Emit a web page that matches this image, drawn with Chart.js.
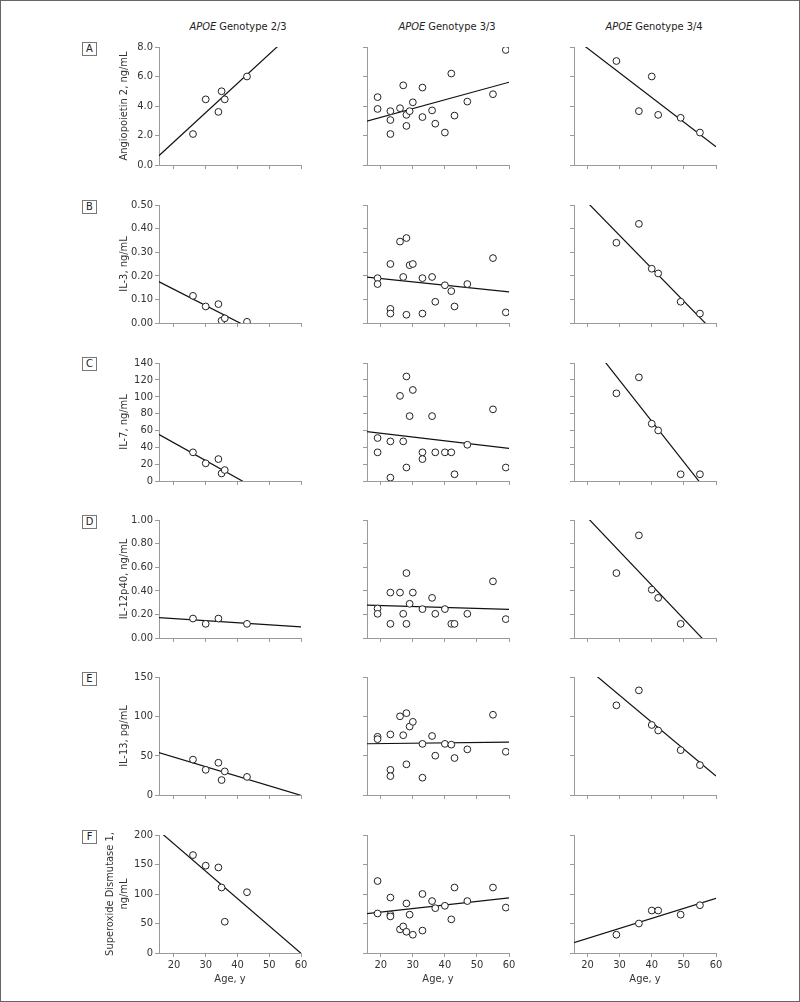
<!DOCTYPE html>
<html>
<head>
<meta charset="utf-8">
<script src="https://cdn.jsdelivr.net/npm/chart.js@4.4.1/dist/chart.umd.min.js"></script>
<style>
  body { margin: 0; background: #fff; }
  #page {
    position: relative; width: 800px; height: 1002px; box-sizing: border-box;
    border: 1px solid #666; overflow: hidden; background: #fff;
    font-family: "DejaVu Sans Condensed", "Liberation Sans", sans-serif;
    color: #222;
  }
  canvas { position: absolute; }
  .col { position: absolute; top: 19px; font-size: 11px; line-height: 13px; white-space: nowrap; transform: translateX(-50%); }
  .tag { position: absolute; left: 81px; width: 13px; height: 12px; border: 1px solid #777;
         font-size: 11px; line-height: 12px; text-align: center; }
</style>
</head>
<body>
<div id="page"></div>
<script>
// axis labels
const colTitles = ['Genotype 2/3', 'Genotype 3/3', 'Genotype 3/4'];
const rowLetters = ['A', 'B', 'C', 'D', 'E', 'F'];
const yTitles = [
  'Angiopoietin 2, ng/mL',
  'IL-3, ng/mL',
  'IL-7, ng/mL',
  'IL-12p40, ng/mL',
  'IL-13, pg/mL',
  ['Superoxide Dismutase 1,', 'ng/mL']
];
const xTicks = [20, 30, 40, 50, 60];
const ticksA = [0, 2, 4, 6, 8];
const ticksB = [0, 0.1, 0.2, 0.3, 0.4, 0.5];
const ticksC = [0, 20, 40, 60, 80, 100, 120, 140];
const ticksD = [0, 0.2, 0.4, 0.6, 0.8, 1.0];
const ticksE = [0, 50, 100, 150];
const ticksF = [0, 50, 100, 150, 200];
const tickDecimals = [1, 2, 0, 2, 0, 0];

// APOE 2/3
const age23 = [26, 30, 34, 35, 36, 43];
const angio23 = [2.1, 4.45, 3.6, 5.0, 4.45, 6.0];
const il3_23 = [0.115, 0.07, 0.08, 0.01, 0.02, 0.005];
const il7age23 = [26, 30, 34, 35, 36];
const il7_23 = [34, 21, 26, 9, 13];
const il12age23 = [26, 30, 34, 43];
const il12_23 = [0.165, 0.12, 0.165, 0.12];
const il13_23 = [45, 32, 41, 19, 30, 23];
const sod23 = [166, 148, 145, 111, 53, 103];

// APOE 3/3
const age33 = [19, 19, 23, 23, 23, 26, 27, 28, 28, 29, 30, 33, 33, 36, 37, 40, 42, 43, 47, 55, 59];
const angio33 = [4.6, 3.8, 3.65, 3.05, 2.1, 3.85, 5.4, 3.4, 2.65, 3.65, 4.25, 5.25, 3.25, 3.7, 2.8, 2.2, 6.2, 3.35, 4.3, 4.8, 7.8];
const il3_33 = [0.19, 0.165, 0.25, 0.06, 0.04, 0.345, 0.195, 0.36, 0.035, 0.245, 0.25, 0.19, 0.04, 0.195, 0.09, 0.16, 0.135, 0.07, 0.165, 0.275, 0.045];
const il7age33 = [19, 19, 23, 23, 26, 27, 28, 28, 29, 30, 33, 33, 36, 37, 40, 42, 43, 47, 55, 59];
const il7_33 = [51, 34, 47, 4, 101, 47, 124, 16, 77, 108, 34, 26, 77, 34, 34, 34, 8, 43, 85, 16];
const il12age33 = [19, 19, 23, 23, 26, 27, 28, 28, 29, 30, 33, 36, 37, 40, 42, 43, 47, 55, 59];
const il12_33 = [0.25, 0.205, 0.385, 0.12, 0.385, 0.205, 0.55, 0.12, 0.29, 0.385, 0.245, 0.34, 0.205, 0.245, 0.12, 0.12, 0.205, 0.48, 0.16];
const il13_33 = [74, 71, 77, 32, 24, 100, 76, 104, 39, 87, 93, 65, 22, 75, 50, 65, 64, 47, 58, 102, 55];
const sod33 = [122, 67, 94, 65, 62, 40, 45, 84, 36, 65, 31, 100, 38, 88, 76, 80, 57, 111, 88, 111, 77];

// APOE 3/4
const age34 = [29, 36, 40, 42, 49, 55];
const angio34 = [7.05, 3.65, 6.0, 3.4, 3.2, 2.2];
const il3_34 = [0.34, 0.42, 0.23, 0.21, 0.09, 0.04];
const il7_34 = [104, 123, 68, 60, 8, 8];
const il12age34 = [29, 36, 40, 42, 49];
const il12_34 = [0.55, 0.87, 0.41, 0.34, 0.12];
const il13_34 = [114, 133, 89, 82, 57, 38];
const sod34 = [31, 50, 72, 72, 65, 81];

// fitted lines: value at age 15 and at age 60
const fitAges = [15, 60];
const fitAngio = [[0.58, 9.5], [2.93, 5.61], [8.75, 1.24]];
const fitIl3 = [[0.177, -0.132], [0.195, 0.132], [0.58, -0.047]];
const fitIl7 = [[55.8, -38.9], [58.9, 38.6], [192, -26]];
const fitIl12 = [[0.174, 0.094], [0.28, 0.242], [1.163, -0.126]];
const fitIl13 = [[54.1, -0.5], [65.1, 67.3], [178, 24]];
const fitSod = [[208.2, -0.5], [66.4, 93.5], [16.4, 92.7]];

const yTickSets = [ticksA, ticksB, ticksC, ticksD, ticksE, ticksF];
const panels = [
  [[age23, angio23], [age33, angio33], [age34, angio34]],
  [[age23, il3_23], [age33, il3_33], [age34, il3_34]],
  [[il7age23, il7_23], [il7age33, il7_33], [age34, il7_34]],
  [[il12age23, il12_23], [il12age33, il12_33], [il12age34, il12_34]],
  [[age23, il13_23], [age33, il13_33], [age34, il13_34]],
  [[age23, sod23], [age33, sod33], [age34, sod34]]
];
const fits = [fitAngio, fitIl3, fitIl7, fitIl12, fitIl13, fitSod];

// layout
const areaLeft = [158, 366, 573];
const areaTop = [46, 204, 362, 519, 676, 834];
const areaW = 142, areaH = 118;
const xMin = [15.3, 15.7, 15.8];
const titleX = [237, 446, 653];
const axisGray = '#9a9a9a';

Chart.defaults.font.family = '"DejaVu Sans Condensed", "Liberation Sans", sans-serif';
Chart.defaults.font.size = 11;
Chart.defaults.color = '#333';

const page = document.getElementById('page');

colTitles.forEach((t, c) => {
  const d = document.createElement('div');
  d.className = 'col';
  d.style.left = titleX[c] + 'px';
  d.innerHTML = '<i>APOE</i> ' + t;
  page.appendChild(d);
});

rowLetters.forEach((l, r) => {
  const d = document.createElement('div');
  d.className = 'tag';
  d.style.top = Math.round(41 + r * 157.6) + 'px';
  d.textContent = l;
  page.appendChild(d);
});

function makePanel(r, c) {
  const last = r === 5;
  const yw = c === 0 ? (last ? 59 : 45) : 10;
  const xh = last ? 37 : 10;
  const padT = 10, padR = 12, padB = last ? 4 : 0;
  const cv = document.createElement('canvas');
  cv.width = yw + areaW + padR;
  cv.height = padT + areaH + xh + padB;
  cv.style.left = (areaLeft[c] - yw) + 'px';
  cv.style.top = (areaTop[r] - padT) + 'px';
  page.appendChild(cv);

  const [xs, ys] = panels[r][c];
  const pts = xs.map((x, i) => ({ x: x, y: ys[i] }));
  const fit = fits[r][c];
  const linePts = fitAges.map((x, i) => ({ x: x, y: fit[i] }));
  const yt = yTickSets[r];

  new Chart(cv, {
    type: 'scatter',
    data: {
      datasets: [
        { data: pts, pointRadius: 3.4, pointHoverRadius: 3.4, borderColor: '#222',
          backgroundColor: '#fff', borderWidth: 1 },
        { type: 'line', data: linePts, showLine: true, pointRadius: 0,
          borderColor: '#111', borderWidth: 1.2, fill: false }
      ]
    },
    options: {
      responsive: false,
      animation: false,
      events: [],
      layout: { padding: { top: padT, right: padR, bottom: padB, left: 0 } },
      plugins: { legend: { display: false }, tooltip: { enabled: false } },
      scales: {
        x: {
          type: 'linear', min: xMin[c], max: 60,
          afterBuildTicks: s => { s.ticks = xTicks.map(v => ({ value: v })); },
          afterFit: s => { s.height = xh; },
          grid: { drawOnChartArea: false, drawTicks: true, tickLength: 4, color: axisGray },
          border: { display: true, color: axisGray },
          ticks: { display: last, padding: 2, color: '#333', autoSkip: false, maxRotation: 0 },
          title: { display: last, text: 'Age, y', color: '#333', padding: { top: 2, bottom: 4 } }
        },
        y: {
          type: 'linear', min: yt[0], max: yt[yt.length - 1],
          afterBuildTicks: s => { s.ticks = yt.map(v => ({ value: v })); },
          afterFit: s => { s.width = yw; },
          grid: { drawOnChartArea: false, drawTicks: true, tickLength: 4, color: axisGray },
          border: { display: true, color: axisGray },
          ticks: { display: c === 0, padding: 2, color: '#333', autoSkip: false,
                   callback: v => Number(v).toFixed(tickDecimals[r]) },
          title: { display: c === 0, text: yTitles[r], color: '#333', padding: { top: 4, bottom: 4 } }
        }
      }
    }
  });
}

for (let r = 0; r < 6; r++) {
  for (let c = 0; c < 3; c++) makePanel(r, c);
}
</script>
</body>
</html>
